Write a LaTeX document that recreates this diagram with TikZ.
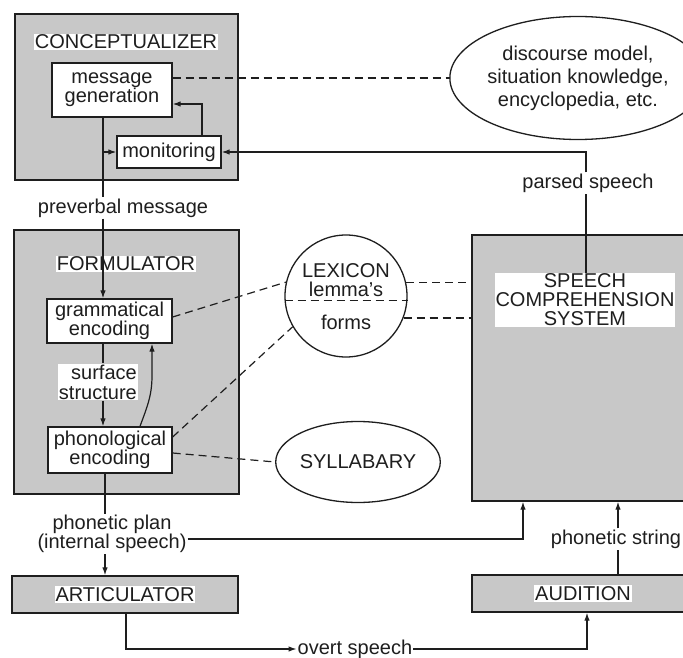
\documentclass[tikz,border=0pt]{standalone}
\usepackage{fontspec}
\setmainfont{Liberation Sans}
\usetikzlibrary{shapes.geometric, arrows.meta, positioning, calc}
\definecolor{boxgray}{RGB}{200,200,200}
\definecolor{inkgray}{RGB}{30,30,30}

\tikzset{
  module/.style={draw=inkgray, fill=boxgray, line width=1.4pt, inner sep=0pt},
  title/.style={fill=white, inner sep=1pt, align=center},
  proc/.style={draw=inkgray, fill=white, line width=1.3pt, align=center, inner sep=0pt},
  store/.style={draw=inkgray, fill=white, line width=1.3pt, ellipse, align=center, inner sep=0pt},
  flowlabel/.style={fill=white, inner sep=1pt, align=center},
  flow/.style={draw=inkgray, line width=1.2pt},
  link/.style={draw=inkgray, line width=1.2pt, dash pattern=on 8pt off 5pt},
}

\begin{document}
\begin{tikzpicture}[x=1pt, y=-1pt, >={Latex[length=8pt,width=5.5pt]},
    every node/.style={font=\fontsize{20}{19}\selectfont, text=inkgray}]
\useasboundingbox (0,0) rectangle (683,658);

% conceptualizer
\node[module, minimum width=223pt, minimum height=166pt] (conc) at (126.5,97) {};
\node[title] (conct) at (126,42) {CONCEPTUALIZER};
\node[proc, minimum width=120pt, minimum height=54pt] (msg) at (112,90) {message\\generation};
\node[proc, minimum width=104pt, minimum height=32pt] (mon) at (169,152) {monitoring};
\node[store, minimum width=210pt, minimum height=123pt, font=\fontsize{20}{23}\selectfont] (disc) at (578,78)
  {discourse model,\\situation knowledge,\\encyclopedia, etc.};

% formulator
\node[module, minimum width=225pt, minimum height=264pt] (form) at (126.5,362) {};
\node[title] (formt) at (126,264) {FORMULATOR};
\node[proc, minimum width=125pt, minimum height=44pt] (gram) at (109.5,321) {grammatical\\encoding};
\node[proc, minimum width=124pt, minimum height=46pt] (phon) at (110,450) {phonological\\encoding};

% lexicon and syllabary
\node[store, circle, minimum size=122pt] (lex) at (346,296) {};
\node[align=center, inner sep=0pt] (lexup) at (346,280) {LEXICON\\lemma's};
\node[inner sep=0pt] (lexdown) at (346,322) {forms};
\node[store, minimum width=147pt, minimum height=81pt] (syl) at (358,462) {SYLLABARY};

% comprehension, articulator, audition
\node[module, minimum width=218pt, minimum height=266pt] (scs) at (581,368) {};
\node[title] (scst) at (585,300) {SPEECH\\COMPREHENSION\\SYSTEM};
\node[module, minimum width=226pt, minimum height=37pt] (art) at (125,594.5) {};
\node[title] (artt) at (art) {ARTICULATOR};
\node[module, minimum width=218pt, minimum height=37pt] (aud) at (581,593.5) {};
\node[title] (audt) at (583,593.5) {AUDITION};

% labels on the flows
\node[flowlabel] (prev) at (123,208) {preverbal message};
\node[flowlabel, align=right, anchor=east, font=\fontsize{20}{20}\selectfont] (surf) at (138,382) {surface\\structure};
\node[flowlabel, font=\fontsize{20}{16}\selectfont] (plan) at (112,534) {phonetic plan\\(internal speech)};
\node[flowlabel] (parsed) at (588,183) {parsed speech};
\node[flowlabel] (pstr) at (616,539) {phonetic string};
\node[flowlabel] (overt) at (355,649) {overt speech};

\coordinate (spine) at (103,0);
\coordinate (spine2) at (105,0);
\coordinate (parse) at (586,0);
\coordinate (ps) at (618,0);

% solid flows
\draw[flow] (spine |- msg.south) -- (spine |- prev.north);
\draw[flow,->] (spine |- prev.south) -- (spine |- gram.north);
\draw[flow,->] (spine |- mon.west) -- (mon.west);
\draw[flow,->] ([xshift=33pt]mon.north) |- ([yshift=-14pt]msg.east);
\draw[flow] (parse |- scst.north) -- (parse |- parsed.south);
\draw[flow,->] (parse |- parsed.north) |- (mon.east);
\draw[flow] (spine |- gram.south) -- (spine |- surf.north);
\draw[flow,->] (spine |- surf.south) -- (spine |- phon.north);
\draw[flow,->] ([xshift=30pt]phon.north) to[out=70,in=-90] ([xshift=42.5pt,yshift=-32pt]gram.south)
  -- ([xshift=42.5pt]gram.south);
\draw[flow] (spine2 |- phon.south) -- (spine2 |- plan.north);
\draw[flow,->] (spine2 |- plan.south) -- (spine2 |- art.north);
\draw[flow,->] ([yshift=-5pt]plan.east) -| ([xshift=-58pt]scs.south);
\draw[flow] (ps |- aud.north) -- (ps |- pstr.south);
\draw[flow,->] (ps |- pstr.north) -- (ps |- scs.south);
\draw[flow,->] ([xshift=1pt]art.south) |- (overt.west);
\draw[flow,->] (overt.east) -| ([xshift=6pt]aud.south);

% dashed links
\draw[link] ([yshift=12pt]msg.east) -- (disc.west);
\draw[link] ([yshift=4pt]gram.east) -- (lex.167);
\draw[link] ([yshift=13pt]phon.east) -- (lex.210);
\draw[link] ([yshift=-3pt]phon.east) -- (syl.west);
\draw[link] (lex.13) -- (lex.13 -| scs.west);
\draw[link] (lex.-21) -- (lex.-21 -| scs.west);
\draw[link] (lex.184.7) -- (lex.-4.7);
\end{tikzpicture}
\end{document}
